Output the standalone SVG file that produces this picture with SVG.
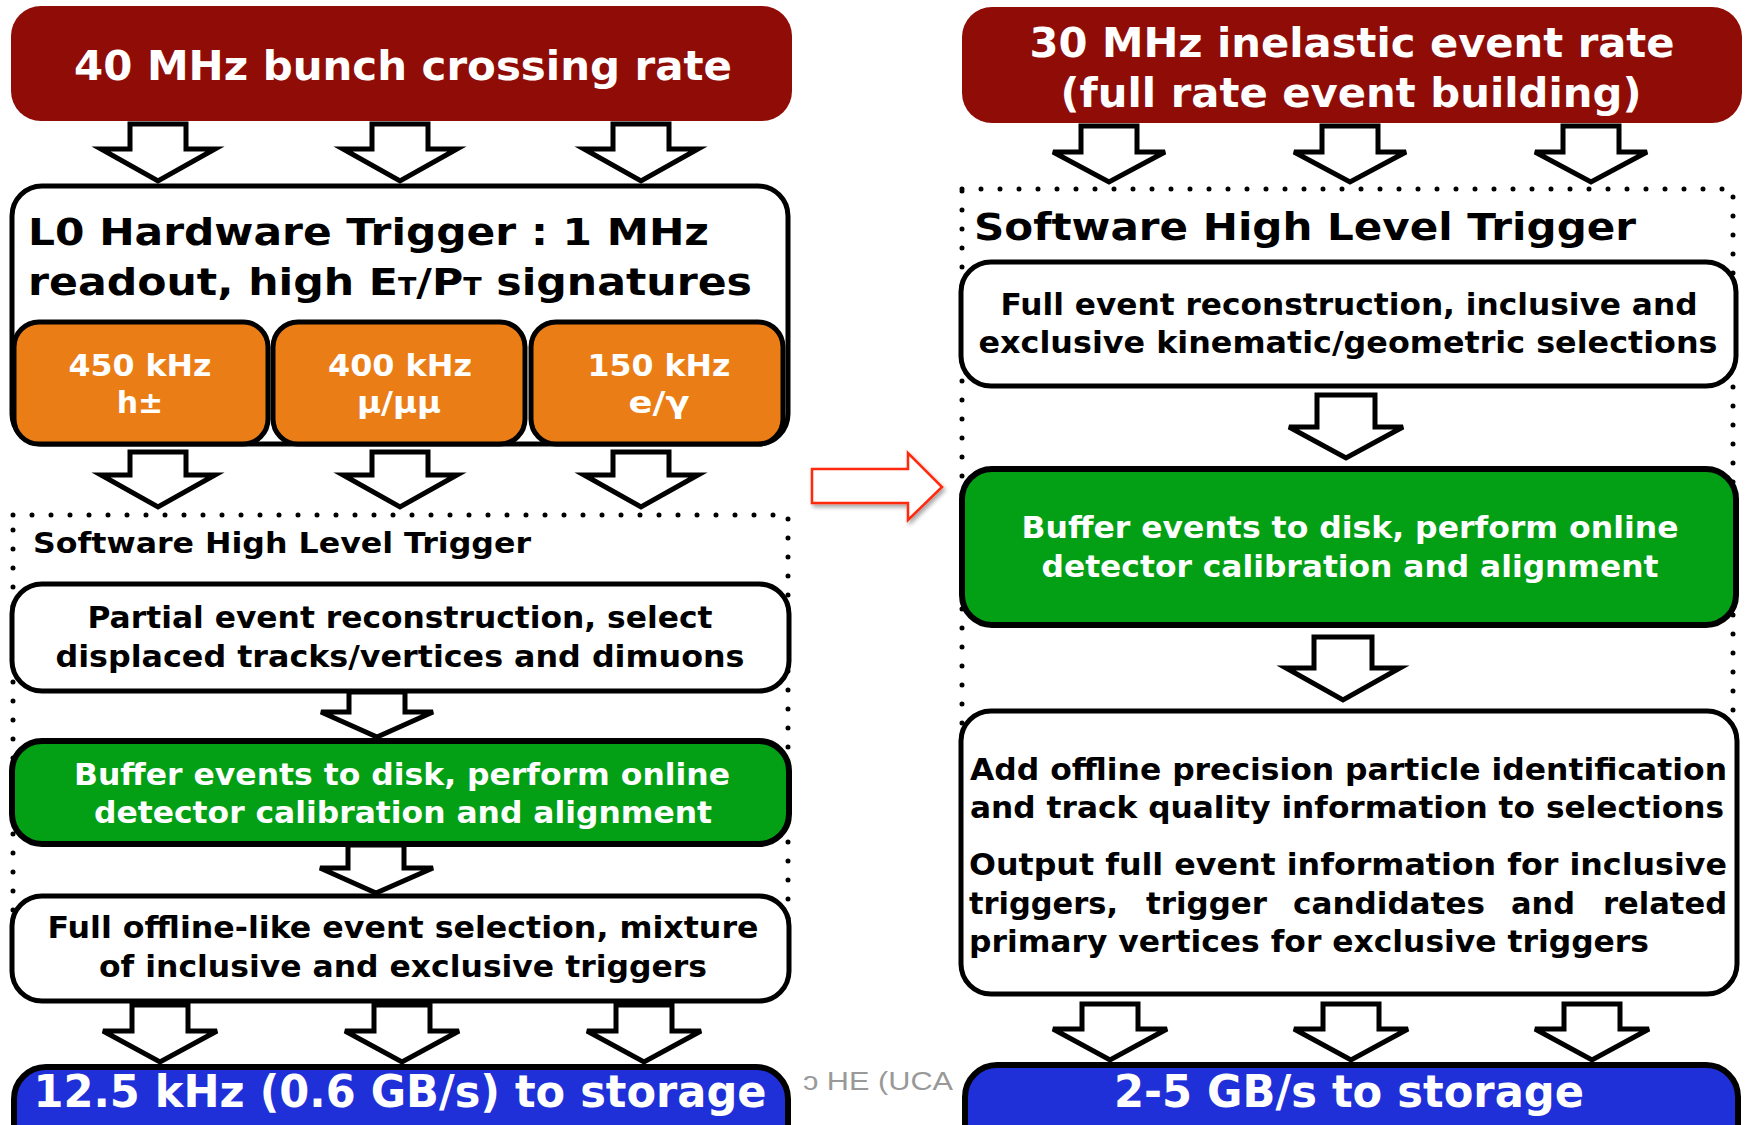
<svg xmlns="http://www.w3.org/2000/svg" width="1750" height="1125" viewBox="0 0 1750 1125">
<defs>
<style>
.t{font-family:"DejaVu Sans","Verdana",sans-serif;font-weight:bold;}
.w{fill:#ffffff;}
.k{fill:#000000;}
.box{fill:#ffffff;stroke:#000000;stroke-width:5;}
.red{fill:#900d07;}
.org{fill:#ea7d15;stroke:#000000;stroke-width:5;}
.grn{fill:#03a015;stroke:#000000;stroke-width:6;}
.blu{fill:#2030d8;stroke:#000000;stroke-width:6;}
.dot{fill:none;stroke:#000000;stroke-width:5;stroke-linecap:round;stroke-dasharray:0 19;}
.arr{fill:#ffffff;stroke:#000000;stroke-width:5;stroke-linejoin:miter;}
</style>
<filter id="sh" x="-20%" y="-20%" width="150%" height="160%">
<feDropShadow dx="2" dy="3" stdDeviation="2" flood-color="#000" flood-opacity="0.35"/>
</filter>
</defs>

<g id="footer">
<text x="803" y="1090" font-family="Liberation Sans, Arial, sans-serif" font-size="25" fill="#999999" textLength="150" lengthAdjust="spacingAndGlyphs">ɔ HE (UCA</text>
</g>

<!-- LEFT COLUMN -->
<g id="l-rate">
<rect class="red" x="11" y="6" width="781" height="115" rx="30"/>
<text class="t w" x="403" y="80" font-size="41" text-anchor="middle" textLength="658" lengthAdjust="spacingAndGlyphs">40 MHz bunch crossing rate</text>
</g>

<g id="l-l0">
<rect class="box" x="12" y="186" width="776" height="258" rx="30"/>
<text class="t k" x="28" y="245" font-size="38" textLength="681" lengthAdjust="spacingAndGlyphs">L0 Hardware Trigger : 1 MHz</text>
<text class="t k" x="28" y="295" font-size="38" textLength="724" lengthAdjust="spacingAndGlyphs">readout, high E<tspan font-size="24">T</tspan>/P<tspan font-size="24">T</tspan> signatures</text>
</g>

<g id="l-had">
<rect class="org" x="14" y="322" width="254" height="122" rx="25"/>
<text class="t w" x="140" y="376" font-size="30" text-anchor="middle" textLength="143" lengthAdjust="spacingAndGlyphs">450 kHz</text>
<text class="t w" x="140" y="413" font-size="30" text-anchor="middle">h±</text>
</g>
<g id="l-mu">
<rect class="org" x="273" y="322" width="252" height="122" rx="25"/>
<text class="t w" x="400" y="376" font-size="30" text-anchor="middle" textLength="144" lengthAdjust="spacingAndGlyphs">400 kHz</text>
<text class="t w" x="399" y="413" font-size="30" text-anchor="middle" textLength="84" lengthAdjust="spacingAndGlyphs">μ/μμ</text>
</g>
<g id="l-e">
<rect class="org" x="531" y="322" width="252" height="122" rx="25"/>
<text class="t w" x="659" y="376" font-size="30" text-anchor="middle" textLength="143" lengthAdjust="spacingAndGlyphs">150 kHz</text>
<text class="t w" x="659" y="413" font-size="30" text-anchor="middle" textLength="61" lengthAdjust="spacingAndGlyphs">e/γ</text>
</g>

<g id="l-hlt">
<rect class="dot" x="13" y="515" width="775" height="420"/>
<text class="t k" x="33" y="553" font-size="28" textLength="498" lengthAdjust="spacingAndGlyphs">Software High Level Trigger</text>
</g>

<g id="l-partial">
<rect class="box" x="12" y="584" width="777" height="107" rx="30"/>
<text class="t k" x="400" y="628" font-size="30" text-anchor="middle" textLength="625" lengthAdjust="spacingAndGlyphs">Partial event reconstruction, select</text>
<text class="t k" x="400" y="667" font-size="30" text-anchor="middle" textLength="689" lengthAdjust="spacingAndGlyphs">displaced tracks/vertices and dimuons</text>
</g>

<g id="l-buffer">
<rect class="grn" x="12" y="741" width="777" height="103" rx="30"/>
<text class="t w" x="402" y="785" font-size="30" text-anchor="middle" textLength="656" lengthAdjust="spacingAndGlyphs">Buffer events to disk, perform online</text>
<text class="t w" x="403" y="823" font-size="30" text-anchor="middle" textLength="618" lengthAdjust="spacingAndGlyphs">detector calibration and alignment</text>
</g>

<g id="l-offline">
<rect class="box" x="12" y="896" width="777" height="105" rx="30"/>
<text class="t k" x="403" y="938" font-size="30" text-anchor="middle" textLength="711" lengthAdjust="spacingAndGlyphs">Full offline-like event selection, mixture</text>
<text class="t k" x="403" y="977" font-size="30" text-anchor="middle" textLength="608" lengthAdjust="spacingAndGlyphs">of inclusive and exclusive triggers</text>
</g>

<g id="l-storage">
<rect class="blu" x="14" y="1067" width="774" height="100" rx="32"/>
<text class="t w" x="400" y="1107" font-size="44" text-anchor="middle" textLength="733" lengthAdjust="spacingAndGlyphs">12.5 kHz (0.6 GB/s) to storage</text>
</g>

<!-- RIGHT COLUMN -->
<g id="r-rate">
<rect class="red" x="962" y="7" width="780" height="116" rx="30"/>
<text class="t w" x="1352" y="57" font-size="40" text-anchor="middle" textLength="645" lengthAdjust="spacingAndGlyphs">30 MHz inelastic event rate</text>
<text class="t w" x="1351" y="107" font-size="40" text-anchor="middle" textLength="581" lengthAdjust="spacingAndGlyphs">(full rate event building)</text>
</g>

<g id="r-hlt">
<rect class="dot" x="962" y="189" width="771" height="560"/>
<text class="t k" x="974" y="240" font-size="37" textLength="662" lengthAdjust="spacingAndGlyphs">Software High Level Trigger</text>
</g>

<g id="r-reco">
<rect class="box" x="961" y="262" width="775" height="124" rx="30"/>
<text class="t k" x="1349" y="315" font-size="30" text-anchor="middle" textLength="697" lengthAdjust="spacingAndGlyphs">Full event reconstruction, inclusive and</text>
<text class="t k" x="1348" y="353" font-size="30" text-anchor="middle" textLength="739" lengthAdjust="spacingAndGlyphs">exclusive kinematic/geometric selections</text>
</g>

<g id="r-buffer">
<rect class="grn" x="962" y="469" width="774" height="156" rx="30"/>
<text class="t w" x="1350" y="538" font-size="30" text-anchor="middle" textLength="657" lengthAdjust="spacingAndGlyphs">Buffer events to disk, perform online</text>
<text class="t w" x="1350" y="577" font-size="30" text-anchor="middle" textLength="617" lengthAdjust="spacingAndGlyphs">detector calibration and alignment</text>
</g>

<g id="r-offline">
<rect class="box" x="961" y="711" width="776" height="283" rx="30"/>
<text class="t k" x="970" y="780" font-size="30" textLength="757" lengthAdjust="spacingAndGlyphs">Add offline precision particle identification</text>
<text class="t k" x="970" y="818" font-size="30" textLength="754" lengthAdjust="spacingAndGlyphs">and track quality information to selections</text>
<text class="t k" x="969" y="875" font-size="30" textLength="758" lengthAdjust="spacingAndGlyphs">Output full event information for inclusive</text>
<text class="t k" y="914" font-size="30"><tspan x="969" textLength="149" lengthAdjust="spacingAndGlyphs">triggers,</tspan> <tspan x="1146" textLength="121" lengthAdjust="spacingAndGlyphs">trigger</tspan> <tspan x="1293" textLength="192" lengthAdjust="spacingAndGlyphs">candidates</tspan> <tspan x="1511" textLength="64" lengthAdjust="spacingAndGlyphs">and</tspan> <tspan x="1603" textLength="124" lengthAdjust="spacingAndGlyphs">related</tspan></text>
<text class="t k" x="969" y="952" font-size="30" textLength="680" lengthAdjust="spacingAndGlyphs">primary vertices for exclusive triggers</text>
</g>

<g id="r-storage">
<rect class="blu" x="965" y="1065" width="773" height="100" rx="32"/>
<text class="t w" x="1349" y="1107" font-size="44" text-anchor="middle" textLength="470" lengthAdjust="spacingAndGlyphs">2-5 GB/s to storage</text>
</g>

<!-- CONNECTORS -->
<g id="connectors">
<path class="arr" d="M130,124 H186 V149 H215 L158,181 L101,149 H130 Z"/>
<path class="arr" d="M372,124 H428 V149 H457 L400,181 L343,149 H372 Z"/>
<path class="arr" d="M613,124 H669 V149 H698 L641,181 L584,149 H613 Z"/>

<path class="arr" d="M130,452 H186 V475 H215 L158,507 L101,475 H130 Z"/>
<path class="arr" d="M372,452 H428 V475 H457 L400,507 L343,475 H372 Z"/>
<path class="arr" d="M613,452 H669 V475 H698 L641,507 L584,475 H613 Z"/>

<path class="arr" d="M349,692 H405 V712 H433 L377,737 L321,712 H349 Z"/>
<path class="arr" d="M348,845 H404 V868 H433 L376,893 L320,868 H348 Z"/>

<path class="arr" d="M132,1005 H188 V1031 H217 L160,1062 L103,1031 H132 Z"/>
<path class="arr" d="M374,1005 H430 V1031 H459 L402,1062 L345,1031 H374 Z"/>
<path class="arr" d="M616,1005 H672 V1031 H701 L644,1062 L587,1031 H616 Z"/>

<path class="arr" d="M1081,126 H1137 V152 H1165 L1109,182 L1053,152 H1081 Z"/>
<path class="arr" d="M1322,126 H1378 V152 H1406 L1350,182 L1294,152 H1322 Z"/>
<path class="arr" d="M1563,126 H1619 V152 H1647 L1591,182 L1535,152 H1563 Z"/>

<path class="arr" d="M1317,395 H1375 V427 H1403 L1346,458 L1289,427 H1317 Z"/>
<path class="arr" d="M1314,637 H1372 V668 H1400 L1343,700 L1286,668 H1314 Z"/>

<path class="arr" d="M1082,1004 H1138 V1029 H1167 L1110,1060 L1053,1029 H1082 Z"/>
<path class="arr" d="M1323,1004 H1379 V1029 H1408 L1351,1060 L1294,1029 H1323 Z"/>
<path class="arr" d="M1564,1004 H1620 V1029 H1649 L1592,1060 L1535,1029 H1564 Z"/>

<polygon points="812,469 908,469 908,453 942,487 908,520 908,503 812,503" fill="#ffffff" stroke="#ff2a10" stroke-width="2.5" filter="url(#sh)"/>
</g>
</svg>
